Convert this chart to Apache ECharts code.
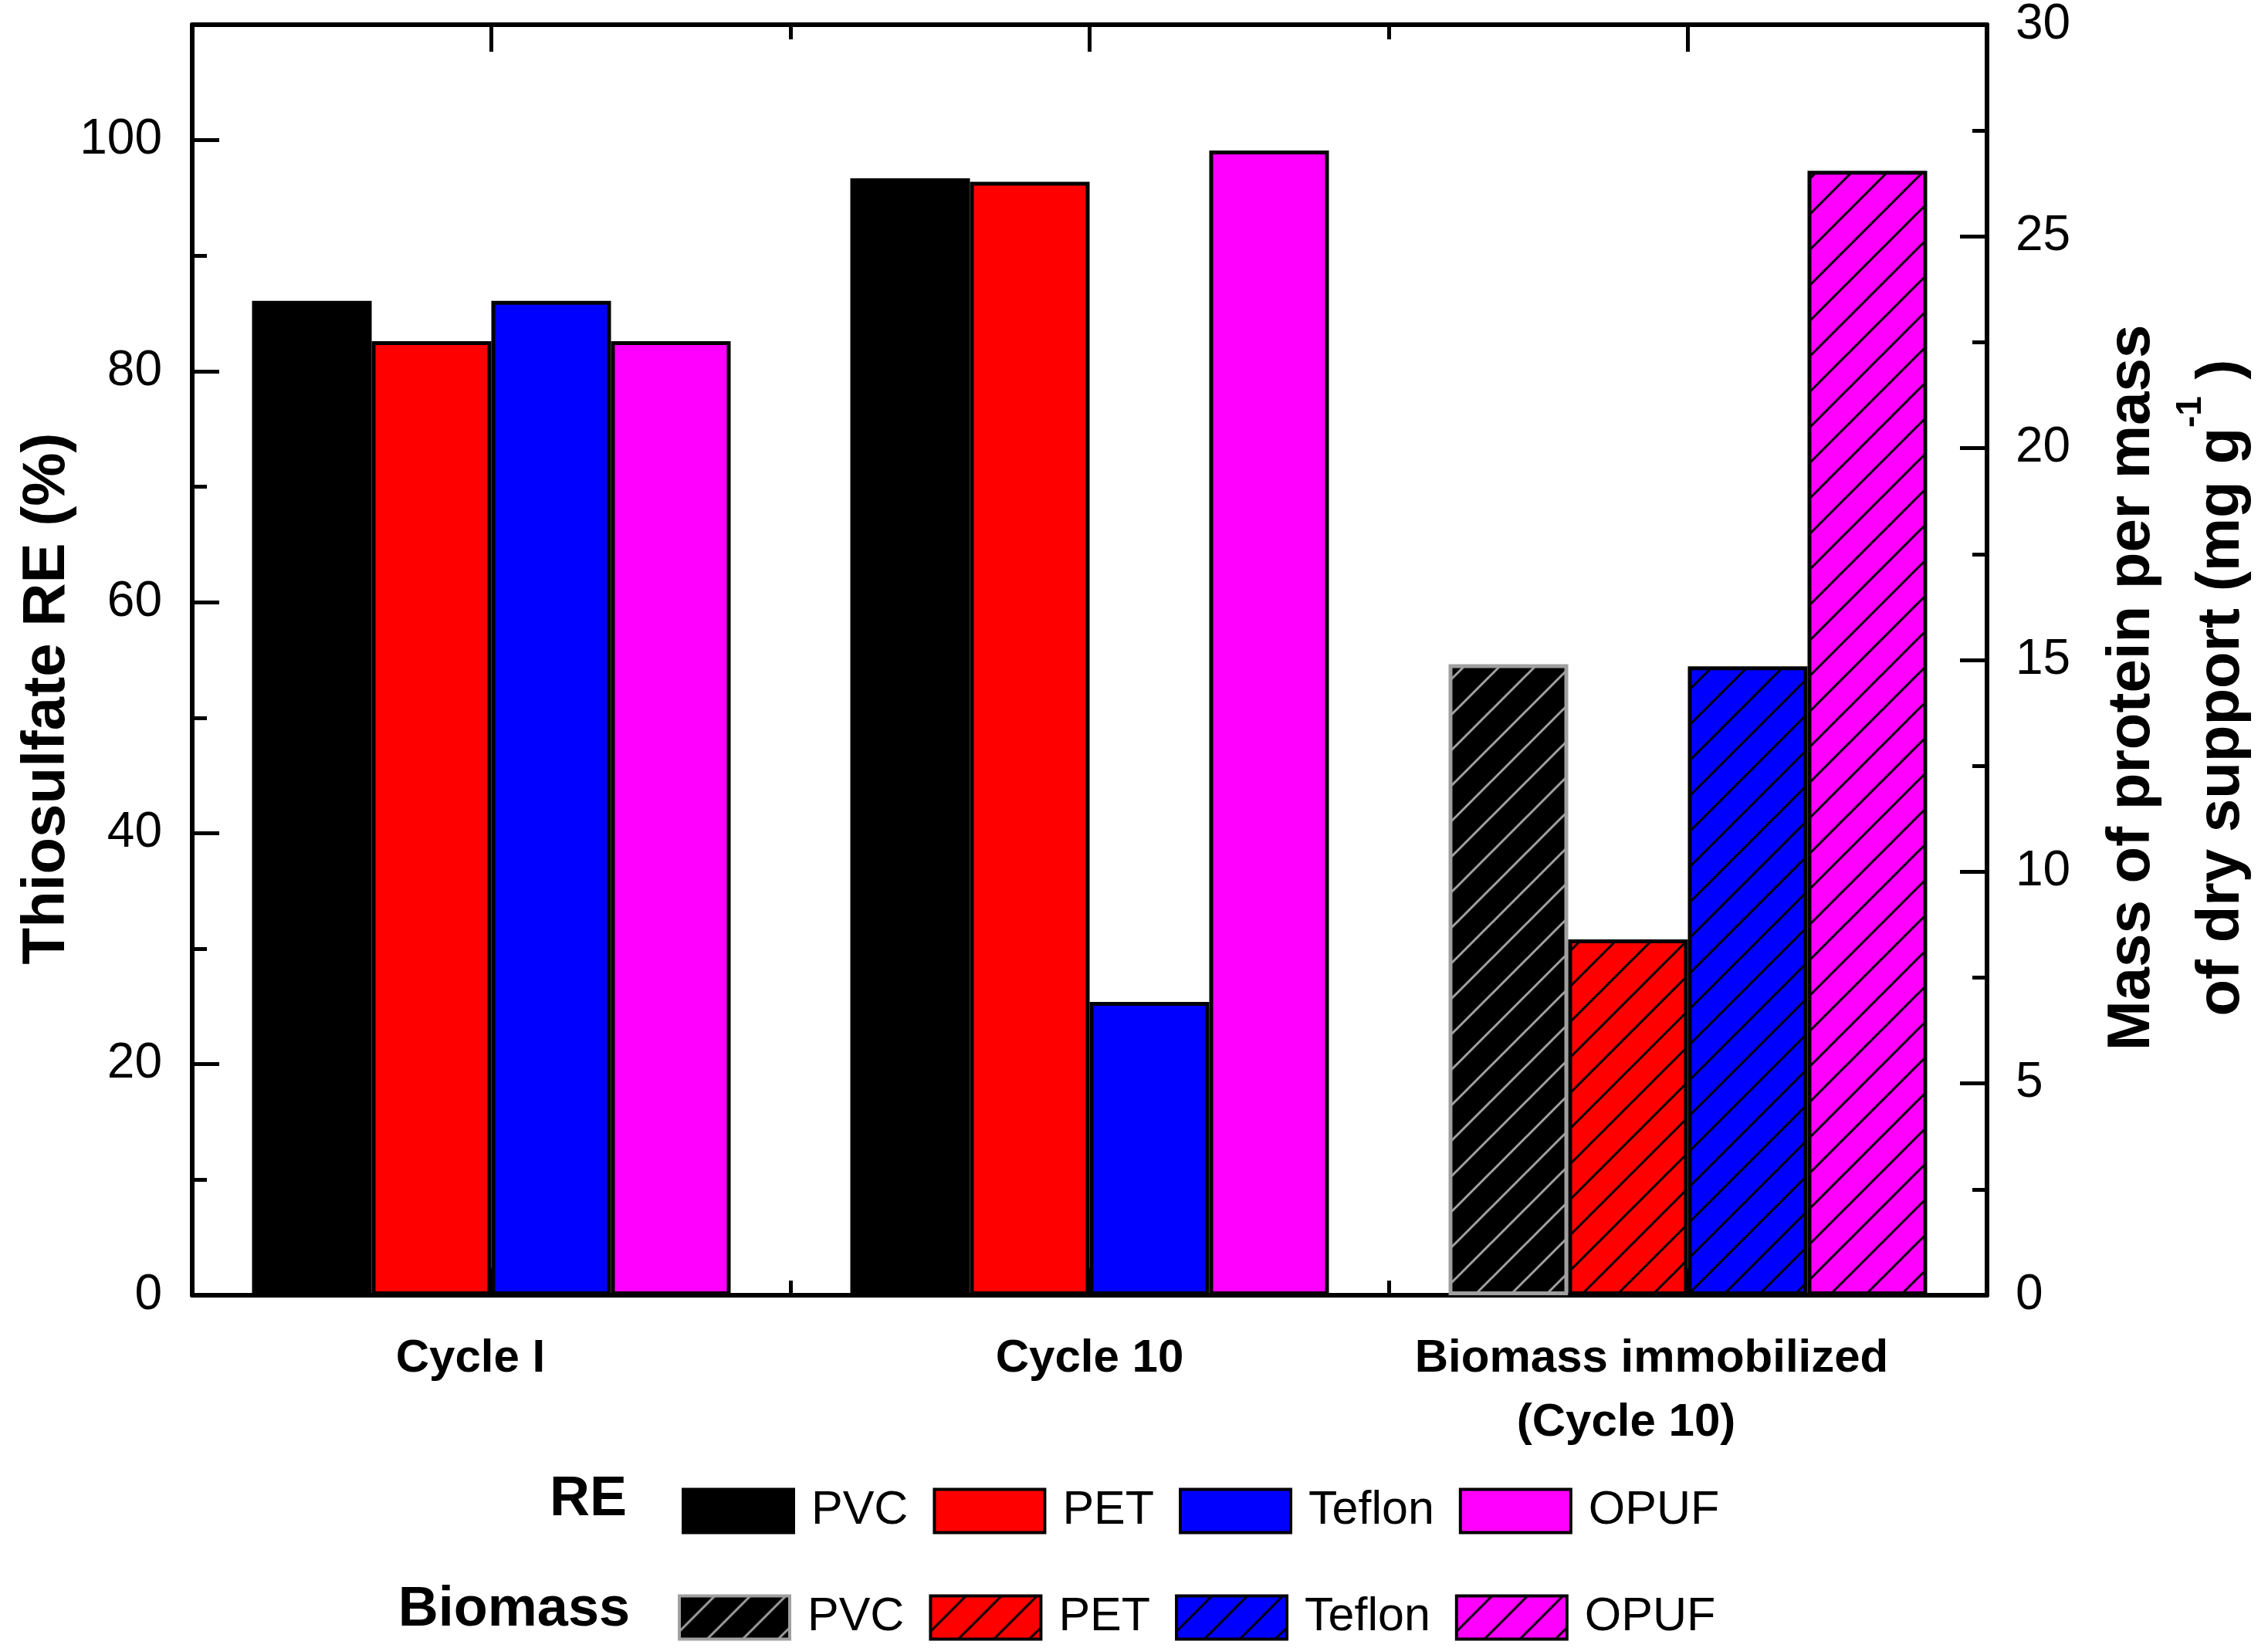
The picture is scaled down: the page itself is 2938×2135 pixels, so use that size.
<!DOCTYPE html>
<html>
<head>
<meta charset="utf-8">
<script src="https://cdn.jsdelivr.net/npm/echarts@6/dist/echarts.min.js"></script>
<style>
  html, body { margin: 0; padding: 0; background: #fff; }
  #chart { width: 2938px; height: 2135px; }
</style>
</head>
<body>
<div id="chart"></div>
<script>
// ---------------- data ----------------
const categories = ['Cycle I', 'Cycle 10', 'Biomass immobilized\n(Cycle 10)'];
const materials = ['PVC', 'PET', 'Teflon', 'OPUF'];
// Thiosulfate removal efficiency (%) - left axis
const rePVC    = [86.1, 96.7, '-'];
const rePET    = [82.6, 96.4, '-'];
const reTeflon = [86.1, 25.4, '-'];
const reOPUF   = [82.6, 99.1, '-'];
// Biomass immobilized (mg protein / g dry support) - right axis
const bioPVC    = ['-', '-', 14.9];
const bioPET    = ['-', '-', 8.4];
const bioTeflon = ['-', '-', 14.85];
const bioOPUF   = ['-', '-', 26.55];

const FONT = '"Liberation Sans", Arial, Helvetica, sans-serif';

function hatch(bg, fg) {
  const S = 46;
  const c = document.createElement('canvas');
  c.width = S; c.height = S;
  const g = c.getContext('2d');
  g.fillStyle = bg; g.fillRect(0, 0, S, S);
  g.strokeStyle = fg; g.lineWidth = 3;
  g.beginPath();
  g.moveTo(-6, S + 6); g.lineTo(S + 6, -6);
  g.moveTo(-6, 6); g.lineTo(6, -6);
  g.moveTo(S - 6, S + 6); g.lineTo(S + 6, S - 6);
  g.stroke();
  return { image: c, repeat: 'repeat' };
}

const solidColors = ['#000000', '#ff0000', '#0000ff', '#ff00ff'];
const reData = [rePVC, rePET, reTeflon, reOPUF];
const bioData = [bioPVC, bioPET, bioTeflon, bioOPUF];
const hatchFill = [hatch('#000000', '#a0a0a0'), hatch('#ff0000', '#000'), hatch('#0000ff', '#000'), hatch('#ff00ff', '#000')];
const bioBorder = ['#a0a0a0', '#000', '#000', '#000'];

const series = [];
materials.forEach((m, i) => {
  series.push({
    name: m, type: 'bar', xAxisIndex: 0, yAxisIndex: 0,
    data: reData[i], barGap: '0%', barCategoryGap: '20%',
    itemStyle: { color: solidColors[i], borderColor: '#000', borderWidth: 5 }
  });
});
materials.forEach((m, i) => {
  series.push({
    name: m + ' biomass', type: 'bar', xAxisIndex: 1, yAxisIndex: 1,
    data: bioData[i], barGap: '0%', barCategoryGap: '20%',
    itemStyle: { color: hatchFill[i], borderColor: bioBorder[i], borderWidth: 5 }
  });
});

const axisLine = { show: true, onZero: false, lineStyle: { color: '#000', width: 6 } };
const noLine = { show: false, onZero: false };
const tickStyle = { color: '#000', width: 5 };

const option = {
  animation: false,
  backgroundColor: '#fff',
  textStyle: { fontFamily: FONT },
  grid: { left: 249, right: 364, top: 31, bottom: 457, containLabel: false },
  xAxis: [
    {
      type: 'category', position: 'bottom', data: categories,
      axisLine: axisLine,
      axisTick: { show: true, inside: true, length: 19, lineStyle: tickStyle },
      axisLabel: {
        interval: 0, margin: 41, color: '#000',
        formatter: (v, idx) => {
          const p = v.split('\n');
          if (p.length === 2) return '{b|' + p[0] + '}\n{c|' + p[1] + '}';
          return (idx === 0 ? '{a|' : '{n|') + v + '}';
        },
        rich: {
          a: { fontFamily: FONT, fontSize: 60, fontWeight: 'bold', color: '#000', lineHeight: 83, padding: [0, 54, 0, 0] },
          n: { fontFamily: FONT, fontSize: 60, fontWeight: 'bold', color: '#000', lineHeight: 83 },
          b: { fontFamily: FONT, fontSize: 60, fontWeight: 'bold', color: '#000', lineHeight: 83, padding: [0, 94, 0, 0] },
          c: { fontFamily: FONT, fontSize: 60, fontWeight: 'bold', color: '#000', lineHeight: 83, padding: [0, 160, 0, 0] }
        }
      },
      splitLine: { show: false }
    },
    {
      type: 'category', position: 'top', data: categories,
      axisLine: axisLine,
      axisTick: { show: true, inside: true, length: 19, lineStyle: tickStyle },
      axisLabel: { show: false },
      splitLine: { show: false }
    },
    {
      type: 'value', position: 'bottom', min: 0, max: 3, interval: 1,
      axisLine: noLine,
      axisTick: { show: false, inside: true },
      minorTick: { show: true, splitNumber: 2, length: 35, lineStyle: tickStyle },
      axisLabel: { show: false }, splitLine: { show: false }, minorSplitLine: { show: false }
    },
    {
      type: 'value', position: 'top', min: 0, max: 3, interval: 1,
      axisLine: noLine,
      axisTick: { show: false, inside: true },
      minorTick: { show: true, splitNumber: 2, length: 35, lineStyle: tickStyle },
      axisLabel: { show: false }, splitLine: { show: false }, minorSplitLine: { show: false }
    }
  ],
  yAxis: [
    {
      type: 'value', position: 'left', min: 0, max: 110, interval: 10,
      axisLine: axisLine,
      axisTick: { show: true, inside: true, length: 19, lineStyle: tickStyle },
      axisLabel: {
        color: '#000', fontSize: 64, fontFamily: FONT, margin: 39,
        formatter: v => (v % 20 === 0 && v <= 100) ? String(v) : ''
      },
      splitLine: { show: false }
    },
    {
      type: 'value', position: 'right', min: 0, max: 30, interval: 5,
      axisLine: axisLine,
      axisTick: { show: true, inside: true, length: 35, lineStyle: tickStyle },
      minorTick: { show: true, splitNumber: 2, length: 19, lineStyle: tickStyle },
      axisLabel: { color: '#000', fontSize: 64, fontFamily: FONT, margin: 37 },
      splitLine: { show: false }, minorSplitLine: { show: false }
    },
    {
      type: 'value', position: 'left', min: 0, max: 110, interval: 20,
      axisLine: noLine,
      axisTick: { show: true, inside: true, length: 35, lineStyle: tickStyle },
      axisLabel: { show: false },
      splitLine: { show: false }
    }
  ],
  legend: [
    {
      data: materials, left: 878, top: 1922, orient: 'horizontal',
      itemWidth: 143, itemHeight: 56, itemGap: 32, icon: 'rect', selectedMode: false,
      itemStyle: { borderWidth: 4 },
      textStyle: { fontSize: 61, fontFamily: FONT, color: '#000', lineHeight: 56, padding: [0, 0, 0, 18] }
    },
    {
      data: materials.map(m => m + ' biomass'), left: 873, top: 2060, orient: 'horizontal',
      itemWidth: 143, itemHeight: 56, itemGap: 32, icon: 'rect', selectedMode: false,
      itemStyle: { borderWidth: 4 },
      formatter: n => n.replace(' biomass', ''),
      textStyle: { fontSize: 61, fontFamily: FONT, color: '#000', lineHeight: 56, padding: [0, 0, 0, 18] }
    }
  ],
  graphic: [
    {
      type: 'text', x: 61, y: 905, rotation: Math.PI / 2,
      style: { text: 'Thiosulfate RE (%)', font: 'bold 78px ' + FONT, fill: '#000', align: 'center', verticalAlign: 'middle' }
    },
    {
      type: 'text', x: 2820, y: 891, rotation: Math.PI / 2,
      style: {
        text: '{t|Mass of protein per mass}\n{t|of dry support (mg g}{s|-1}{t| )}',
        align: 'center', verticalAlign: 'middle',
        rich: {
          t: { font: 'bold 78px ' + FONT, fill: '#000', lineHeight: 116 },
          s: { font: 'bold 46px ' + FONT, fill: '#000', lineHeight: 116, padding: [0, 0, 80, 0] }
        }
      }
    },
    {
      type: 'text', x: 812, y: 1943,
      style: { text: 'RE', font: 'bold 72px ' + FONT, fill: '#000', align: 'right', verticalAlign: 'middle' }
    },
    {
      type: 'text', x: 816, y: 2086,
      style: { text: 'Biomass', font: 'bold 72px ' + FONT, fill: '#000', align: 'right', verticalAlign: 'middle' }
    }
  ],
  series: series
};

const chart = echarts.init(document.getElementById('chart'), null, { renderer: 'canvas' });
chart.setOption(option);
</script>
</body>
</html>
